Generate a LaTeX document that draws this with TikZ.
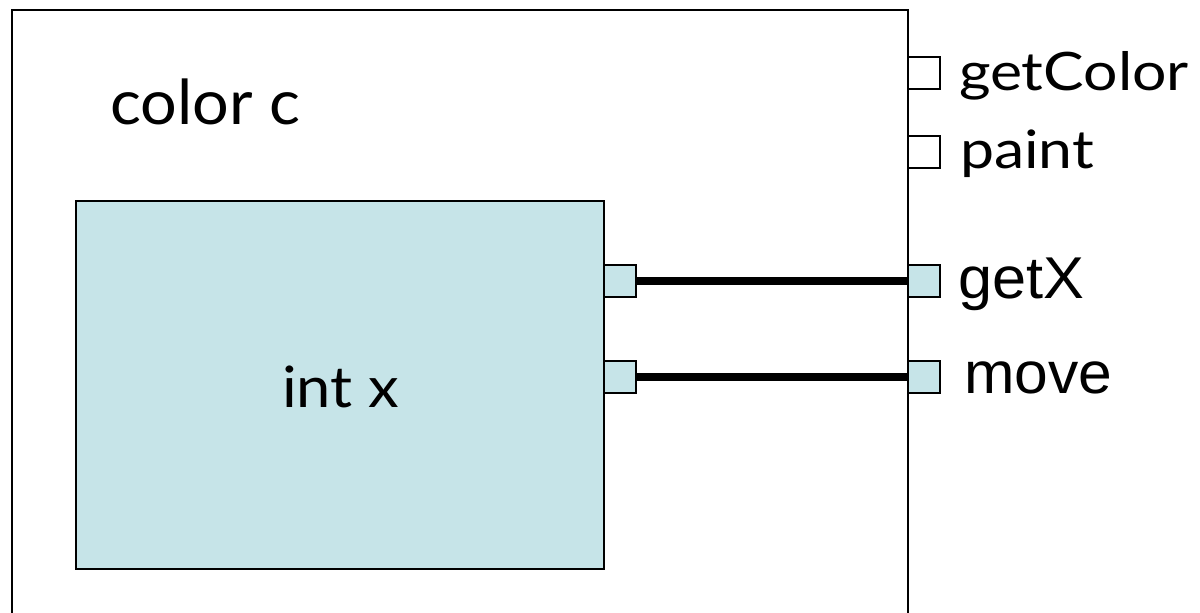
\documentclass[tikz,border=0pt]{standalone}
\usepackage{fontspec}
\usepackage{graphicx}
\setmainfont{Liberation Sans}
\newfontfamily\geofont{Lato}
\definecolor{portblue}{RGB}{198,228,232}
\newcommand{\fitw}[2]{\resizebox{#1}{\height}{#2}}
\begin{document}
\begin{tikzpicture}[x=1pt,y=-1pt,
  every node/.style={inner sep=0pt, outer sep=0pt},
  frame/.style={draw=black, line width=2pt},
  fieldbox/.style={draw=black, line width=2pt, fill=portblue},
  port/.style={draw=black, line width=1.5pt, minimum width=32pt, minimum height=32pt},
  fullport/.style={port, fill=portblue},
  emptyport/.style={port, fill=white},
  wire/.style={line width=8pt},
  geolabel/.style={anchor=base west, font=\geofont\fontsize{53}{60}\selectfont},
  biglabel/.style={anchor=base west, font=\geofont\fontsize{57}{64}\selectfont},
  hugelabel/.style={anchor=base west, font=\geofont\fontsize{62}{70}\selectfont},
  ariallabel/.style={anchor=base west, font=\fontsize{59}{68}\selectfont}]
\useasboundingbox (0,0) rectangle (1200,613);
\fill[white] (0,0) rectangle (1200,613);
\clip (0,0) rectangle (1200,613);
\node[frame, minimum width=896pt, minimum height=640pt, anchor=north west] (object) at (12,10) {};
\node[fieldbox, minimum width=528pt, minimum height=368pt, anchor=north west] (field) at (76,201) {};
% ports
\node[emptyport] (pColor) at (924,73) {};
\node[emptyport] (pPaint) at (924,152) {};
\node[fullport] (pGetX) at (924,281) {};
\node[fullport] (pMove) at (924,377) {};
\node[fullport] (iGetX) at (620,281) {};
\node[fullport] (iMove) at (620,377) {};
% wires
\draw[wire] (iGetX.east) -- (pGetX.west);
\draw[wire] (iMove.east) -- (pMove.west);
% labels
\node[hugelabel] (lc) at (110,124) {\fitw{190pt}{color c}};
\node[biglabel] (lx) at (282,407) {\fitw{117pt}{int x}};
\node[geolabel] (lGetColor) at (959,90) {\fitw{230pt}{getColor}};
\node[geolabel] (lPaint) at (960,168) {\fitw{134pt}{paint}};
\node[ariallabel] (lGetX) at (958,298) {\fitw{126pt}{getX}};
\node[ariallabel] (lMove) at (964,393) {\fitw{148pt}{move}};
\end{tikzpicture}
\end{document}
